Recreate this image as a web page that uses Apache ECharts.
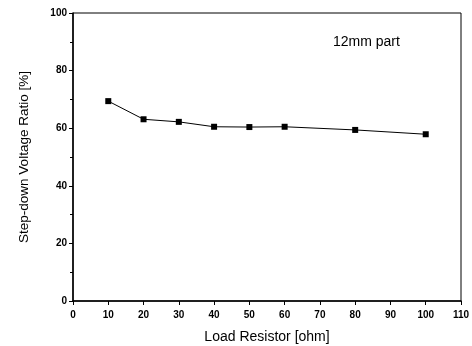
<!DOCTYPE html>
<html><head><meta charset="utf-8">
<script src="https://cdn.jsdelivr.net/npm/echarts@6/dist/echarts.min.js"></script>
<style>html,body{margin:0;padding:0;background:#fff}#c{width:472px;height:346px}</style>
</head><body><div id="c"></div>
<script>
const loadResistor = [10, 20, 30, 40, 50, 60, 80, 100];
const voltageRatio = [69.4, 63.1, 62.2, 60.5, 60.4, 60.5, 59.4, 57.9];
const xTicks = [0, 10, 20, 30, 40, 50, 60, 70, 80, 90, 100, 110];
const yTicks = [0, 20, 40, 60, 80, 100];

const chart = echarts.init(document.getElementById('c'));
const font = 'Liberation Sans, Arial, sans-serif';
chart.setOption({
  animation: false,
  grid: {left: 73, right: 11, top: 13, bottom: 45, show: true, borderColor: '#000', borderWidth: 1,
    containLabel: false, outerBoundsMode: 'none'},
  xAxis: {
    type: 'value', min: 0, max: 110, interval: 10,
    name: 'Load Resistor [ohm]', nameLocation: 'middle', nameGap: 29,
    nameTextStyle: {fontFamily: font, fontSize: 14, color: '#000'},
    axisLine: {show: true, lineStyle: {color: '#000', width: 1.5}},
    axisTick: {show: true, length: 4, lineStyle: {color: '#000'}},
    axisLabel: {fontFamily: font, fontSize: 10, fontWeight: 'bold', color: '#000', margin: 9,
      formatter: v => xTicks.includes(v) ? String(v) : ''},
    splitLine: {show: false}
  },
  yAxis: {
    type: 'value', min: 0, max: 100, interval: 20,
    name: 'Step-down Voltage Ratio [%]', nameLocation: 'middle', nameGap: 42,
    nameTextStyle: {fontFamily: font, fontSize: 13.5, color: '#000'},
    axisLine: {show: true, lineStyle: {color: '#000', width: 1.5}},
    axisTick: {show: true, length: 4, lineStyle: {color: '#000'}},
    minorTick: {show: true, splitNumber: 2, length: 3, lineStyle: {color: '#000'}},
    axisLabel: {fontFamily: font, fontSize: 10, fontWeight: 'bold', color: '#000', margin: 6,
      formatter: v => yTicks.includes(v) ? String(v) : ''},
    splitLine: {show: false}
  },
  graphic: [{type: 'text', left: 333, top: 35,
    style: {text: '12mm part', font: '14px ' + font, fill: '#000'}}],
  series: [{
    type: 'line',
    data: loadResistor.map((x, i) => [x, voltageRatio[i]]),
    symbol: 'rect', symbolSize: 6,
    lineStyle: {color: '#000', width: 1},
    itemStyle: {color: '#000'}
  }]
});
</script></body></html>
